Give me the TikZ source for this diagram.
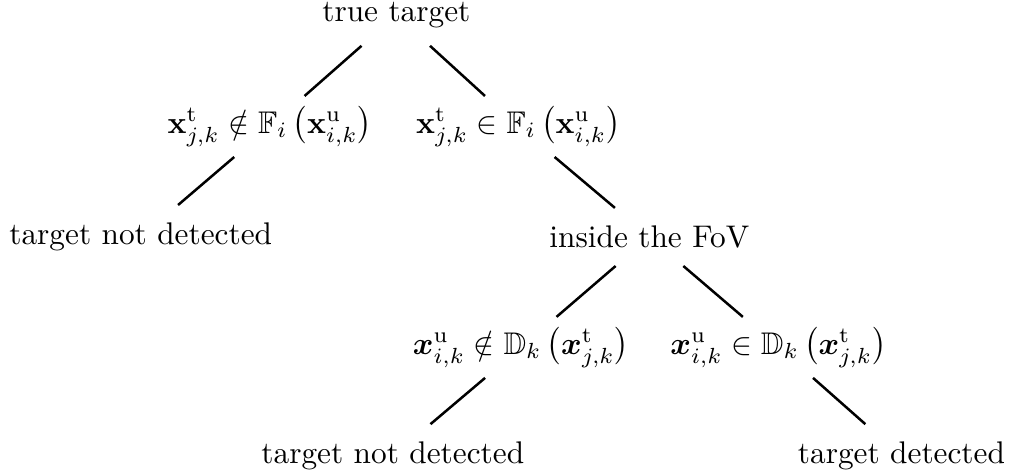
\documentclass[tikz,border=0pt]{standalone}
\usepackage{amsmath,amssymb,bm}
\begin{document}
\begin{tikzpicture}[lbl/.style={inner sep=5.5pt}, cond/.style={inner sep=3.2pt}, branch/.style={thick}]
  \useasboundingbox (0,0) rectangle (11.35,-5.31);
  % root
  \node[lbl] (root) at (4.45,-0.17) {true target};

  % field of view test
  \node[cond] (outfov) at (3.03,-1.42) {$\mathbf{x}^{\mathrm{t}}_{j,k} \notin \mathbb{F}_i \, \bigl(\mathbf{x}^{\mathrm{u}}_{i,k}\bigr)$};
  \node[cond] (infov) at (5.82,-1.42) {$\mathbf{x}^{\mathrm{t}}_{j,k} \in \mathbb{F}_i \, \bigl(\mathbf{x}^{\mathrm{u}}_{i,k}\bigr)$};
  \node[lbl] (miss1) at (1.58,-2.66) {target not detected};
  \node[lbl] (fov) at (7.29,-2.66) {inside the FoV};

  % detection test
  \node[cond] (outdet) at (5.85,-3.90) {$\bm{x}^{\mathrm{u}}_{i,k} \notin \mathbb{D}_k \, \bigl(\bm{x}^{\mathrm{t}}_{j,k}\bigr)$};
  \node[cond] (indet) at (8.74,-3.90) {$\bm{x}^{\mathrm{u}}_{i,k} \in \mathbb{D}_k \, \bigl(\bm{x}^{\mathrm{t}}_{j,k}\bigr)$};
  \node[lbl] (miss2) at (4.41,-5.12) {target not detected};
  \node[lbl] (hit) at (10.12,-5.12) {target detected};

  % branches
  \draw[branch] (root) -- (outfov);
  \draw[branch] (root) -- (infov);
  \draw[branch] (outfov) -- (miss1);
  \draw[branch] (infov) -- (fov);
  \draw[branch] (fov) -- (outdet);
  \draw[branch] (fov) -- (indet);
  \draw[branch] (outdet) -- (miss2);
  \draw[branch] (indet) -- (hit);
\end{tikzpicture}
\end{document}
